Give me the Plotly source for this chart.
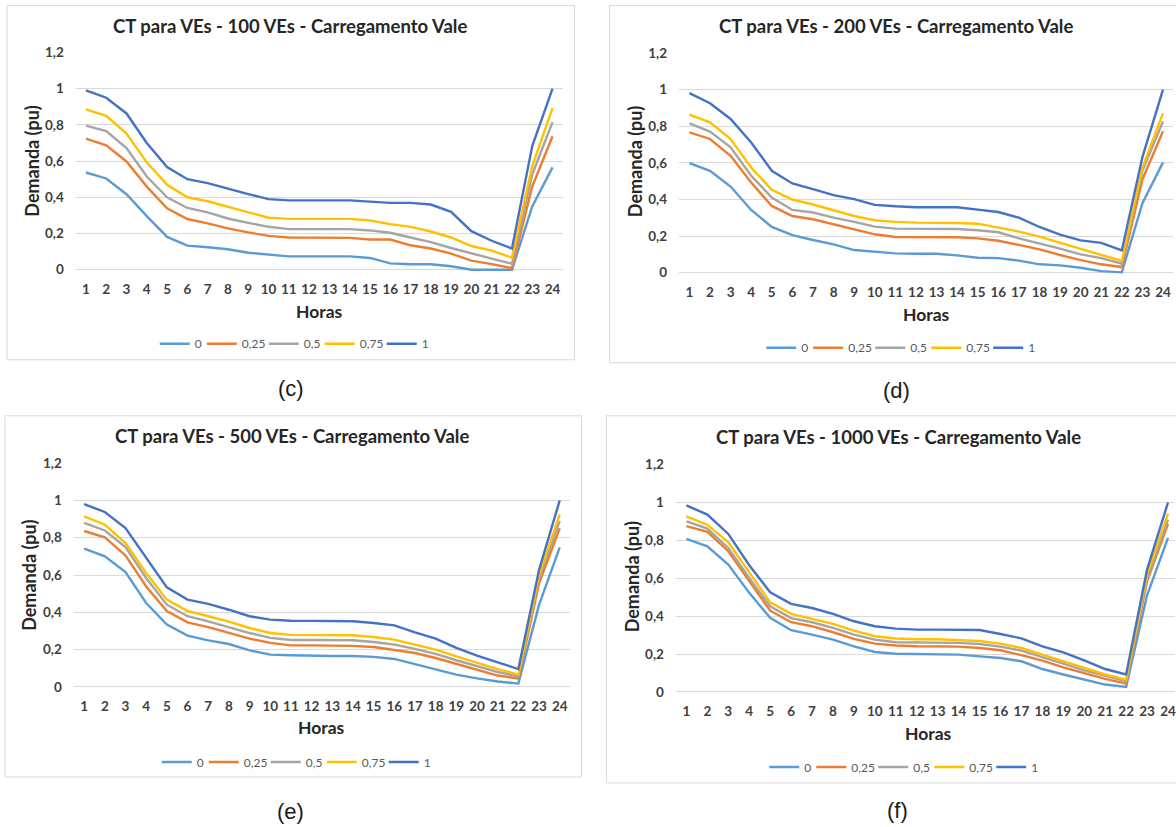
import plotly.graph_objects as go

# ---------------- data ----------------
hours = list(range(1, 25))
series_names = ["0", "0,25", "0,5", "0,75", "1"]
y_tick_vals = [0, 0.2, 0.4, 0.6, 0.8, 1.0, 1.2]
y_tick_text = ["0", "0,2", "0,4", "0,6", "0,8", "1", "1,2"]

# 100 VEs
ve100_0 = [0.537, 0.504, 0.417, 0.296, 0.181, 0.133, 0.124, 0.113, 0.094, 0.083, 0.074, 0.074,
           0.074, 0.074, 0.065, 0.035, 0.030, 0.030, 0.019, 0.0, 0.0, 0.0, 0.35, 0.565]
ve100_025 = [0.724, 0.687, 0.598, 0.459, 0.339, 0.280, 0.256, 0.228, 0.206, 0.187, 0.178, 0.176,
             0.176, 0.176, 0.167, 0.167, 0.135, 0.117, 0.089, 0.050, 0.031, 0.009, 0.46, 0.737]
ve100_05 = [0.796, 0.765, 0.672, 0.515, 0.400, 0.341, 0.317, 0.283, 0.259, 0.237, 0.224, 0.224,
            0.224, 0.224, 0.217, 0.204, 0.178, 0.152, 0.120, 0.089, 0.061, 0.033, 0.526, 0.815]
ve100_075 = [0.885, 0.850, 0.752, 0.593, 0.469, 0.400, 0.378, 0.348, 0.320, 0.287, 0.281, 0.281,
             0.281, 0.281, 0.272, 0.252, 0.237, 0.211, 0.178, 0.131, 0.106, 0.067, 0.572, 0.892]
ve100_1 = [0.990, 0.950, 0.863, 0.700, 0.567, 0.500, 0.478, 0.446, 0.417, 0.390, 0.383, 0.383,
           0.383, 0.383, 0.376, 0.369, 0.369, 0.360, 0.320, 0.213, 0.160, 0.117, 0.683, 1.0]

# 200 VEs
ve200_0 = [0.599, 0.557, 0.471, 0.343, 0.250, 0.205, 0.179, 0.155, 0.124, 0.113, 0.106, 0.104,
           0.104, 0.095, 0.082, 0.080, 0.066, 0.046, 0.040, 0.027, 0.009, 0.002, 0.38, 0.603]
ve200_025 = [0.767, 0.731, 0.639, 0.493, 0.365, 0.310, 0.292, 0.265, 0.237, 0.210, 0.195, 0.194,
             0.194, 0.194, 0.188, 0.175, 0.152, 0.128, 0.097, 0.069, 0.046, 0.031, 0.51, 0.773]
ve200_05 = [0.816, 0.771, 0.685, 0.530, 0.411, 0.343, 0.329, 0.301, 0.278, 0.252, 0.241, 0.239,
            0.239, 0.239, 0.232, 0.221, 0.188, 0.161, 0.132, 0.100, 0.080, 0.049, 0.557, 0.826]
ve200_075 = [0.864, 0.822, 0.730, 0.575, 0.453, 0.400, 0.373, 0.343, 0.310, 0.287, 0.278, 0.274,
             0.274, 0.272, 0.268, 0.245, 0.225, 0.197, 0.164, 0.128, 0.095, 0.064, 0.575, 0.872]
ve200_1 = [0.981, 0.926, 0.840, 0.712, 0.557, 0.488, 0.457, 0.424, 0.402, 0.371, 0.363, 0.358,
           0.358, 0.358, 0.345, 0.332, 0.301, 0.250, 0.208, 0.177, 0.163, 0.122, 0.632, 1.0]

# 500 VEs
ve500_0 = [0.741, 0.700, 0.616, 0.450, 0.334, 0.275, 0.250, 0.230, 0.196, 0.173, 0.170, 0.166,
           0.166, 0.166, 0.161, 0.150, 0.123, 0.096, 0.066, 0.046, 0.029, 0.018, 0.44, 0.748]
ve500_025 = [0.836, 0.802, 0.705, 0.539, 0.407, 0.346, 0.321, 0.289, 0.259, 0.236, 0.223, 0.223,
             0.223, 0.220, 0.214, 0.200, 0.182, 0.155, 0.125, 0.093, 0.061, 0.045, 0.555, 0.851]
ve500_05 = [0.879, 0.839, 0.750, 0.584, 0.441, 0.379, 0.352, 0.321, 0.289, 0.263, 0.252, 0.252,
            0.250, 0.250, 0.241, 0.227, 0.204, 0.177, 0.143, 0.111, 0.080, 0.057, 0.582, 0.890]
ve500_075 = [0.914, 0.870, 0.771, 0.611, 0.468, 0.407, 0.379, 0.350, 0.316, 0.289, 0.279, 0.277,
             0.277, 0.277, 0.268, 0.254, 0.227, 0.200, 0.164, 0.129, 0.096, 0.066, 0.600, 0.925]
ve500_1 = [0.980, 0.938, 0.852, 0.691, 0.534, 0.468, 0.445, 0.414, 0.379, 0.361, 0.355, 0.354,
           0.352, 0.352, 0.343, 0.330, 0.293, 0.259, 0.209, 0.168, 0.132, 0.096, 0.628, 1.0]

# 1000 VEs
ve1000_0 = [0.808, 0.769, 0.672, 0.523, 0.391, 0.326, 0.303, 0.276, 0.241, 0.211, 0.202, 0.201,
            0.201, 0.197, 0.188, 0.179, 0.162, 0.121, 0.092, 0.065, 0.039, 0.026, 0.51, 0.813]
ve1000_025 = [0.875, 0.845, 0.743, 0.584, 0.429, 0.368, 0.347, 0.315, 0.280, 0.255, 0.245, 0.241,
              0.241, 0.239, 0.232, 0.220, 0.194, 0.165, 0.130, 0.100, 0.069, 0.044, 0.584, 0.887]
ve1000_05 = [0.900, 0.862, 0.760, 0.602, 0.452, 0.390, 0.368, 0.338, 0.303, 0.276, 0.262, 0.260,
             0.260, 0.259, 0.253, 0.239, 0.218, 0.185, 0.150, 0.114, 0.083, 0.056, 0.600, 0.910]
ve1000_075 = [0.927, 0.883, 0.790, 0.628, 0.473, 0.412, 0.387, 0.359, 0.324, 0.294, 0.282, 0.278,
              0.278, 0.274, 0.269, 0.255, 0.232, 0.197, 0.162, 0.127, 0.092, 0.065, 0.620, 0.941]
ve1000_1 = [0.985, 0.936, 0.834, 0.669, 0.526, 0.465, 0.443, 0.412, 0.373, 0.347, 0.334, 0.329,
            0.329, 0.329, 0.327, 0.306, 0.283, 0.241, 0.209, 0.167, 0.121, 0.092, 0.646, 1.0]

panel_titles = [
    "CT para VEs - 100 VEs - Carregamento Vale",
    "CT para VEs - 200 VEs - Carregamento Vale",
    "CT para VEs - 500 VEs - Carregamento Vale",
    "CT para VEs - 1000 VEs - Carregamento Vale",
]
panel_letters = ["(c)", "(d)", "(e)", "(f)"]
panel_series = [
    [ve100_0, ve100_025, ve100_05, ve100_075, ve100_1],
    [ve200_0, ve200_025, ve200_05, ve200_075, ve200_1],
    [ve500_0, ve500_025, ve500_05, ve500_075, ve500_1],
    [ve1000_0, ve1000_025, ve1000_05, ve1000_075, ve1000_1],
]

# ---------------- styling / layout ----------------
W, H = 1176, 827
colors = ["#5B9BD5", "#ED7D31", "#A5A5A5", "#FFC000", "#4472C4"]
legend_widths = [2, 17, 11, 17, 2]
FONT = "Lato, 'Open Sans', sans-serif"
TEXT = "#404040"
GRID = "#D9D9D9"

# vertical placement calibration of the rendered page
Y_OFF, Y_SCALE = 9.4, 0.985


def fx(px):
    return px / W


def fy(py):
    return 1 - ((py - Y_OFF) / Y_SCALE) / H


# per panel geometry in pixels:
# x of hour 1, x of hour 24, right clip, y of value 0, y of value 1.2,
# frame box, title/axis-title/legend/letter anchors
geo = [
    dict(h1=86.0, h24=553.0, clip=None, y0=271.0, y12=53.8,
         frame=(7, 7, 575, 361), title=(290, 27), ytitle=(32, 162),
         xtitle=(320, 313), legend=(292, 345), letter=(291, 390)),
    dict(h1=690.0, h24=1164.0, clip=None, y0=274.0, y12=54.5,
         frame=(610, 7, 1180, 364), title=(897, 27), ytitle=(635, 163),
         xtitle=(927, 316), legend=(899, 349), letter=(897, 392)),
    dict(h1=84.2, h24=560.2, clip=None, y0=688.0, y12=464.3,
         frame=(5, 417, 582, 778), title=(292, 437), ytitle=(29, 576),
         xtitle=(322, 729), legend=(294, 763), letter=(291, 813)),
    dict(h1=687.0, h24=1169.0, clip=1176.0, y0=693.0, y12=465.8,
         frame=(607, 417, 1180, 784), title=(899, 438), ytitle=(632, 578),
         xtitle=(929, 735), legend=(902, 768), letter=(898, 812)),
]

fig = go.Figure()
layout = dict(
    width=W, height=H,
    margin=dict(l=0, r=0, t=0, b=0),
    paper_bgcolor="white", plot_bgcolor="white",
    showlegend=True,
    shapes=[], annotations=[],
)

for k, (g, series) in enumerate(zip(geo, panel_series)):
    suffix = "" if k == 0 else str(k + 1)
    leg = "legend" + suffix
    for name, col, lw, vals in zip(series_names, colors, legend_widths, series):
        fig.add_trace(go.Scatter(
            x=hours, y=vals, mode="lines", name=name,
            line=dict(color=col, width=2.4),
            xaxis="x" + suffix, yaxis="y" + suffix, legend=leg,
            legendwidth=lw, hoverinfo="skip",
        ))

    step = (g["h24"] - g["h1"]) / 23
    left = g["h1"] - step / 2
    right = g["h24"] + step / 2
    xr_hi = 24.5
    if g["clip"] is not None and right > g["clip"]:
        xr_hi = 24.5 - (right - g["clip"]) / step
        right = g["clip"]
    per_unit = (g["y0"] - g["y12"]) / 1.2
    pad = 4.0
    bottom = g["y0"] + pad

    layout["xaxis" + suffix] = dict(
        domain=[fx(left), fx(right)], range=[0.5, xr_hi],
        anchor="y" + suffix, tickmode="array", tickvals=hours,
        ticktext=[str(h) for h in hours], showgrid=False, zeroline=False,
        showline=False, ticks="", ticklabelstandoff=6,
        ticklabeloverflow="allow",
        tickfont=dict(family=FONT, size=13.5, color=TEXT, weight="bold"),
        fixedrange=True,
    )
    layout["yaxis" + suffix] = dict(
        domain=[fy(bottom), fy(g["y12"])], range=[-pad / per_unit, 1.2],
        anchor="x" + suffix, tickmode="array", tickvals=y_tick_vals,
        ticktext=y_tick_text, showgrid=True, gridcolor=GRID, gridwidth=1,
        zeroline=False, showline=False, ticks="", ticklabelstandoff=11,
        tickfont=dict(family=FONT, size=13.5, color=TEXT, weight="bold"),
        fixedrange=True,
    )

    lx, ly = g["legend"]
    layout[leg] = dict(
        orientation="h", x=fx(lx), y=fy(ly), xanchor="center", yanchor="middle",
        font=dict(family=FONT, size=12, color="#595959"),
        bgcolor="rgba(0,0,0,0)", itemwidth=30, traceorder="normal",
    )

    x0, y0, x1, y1 = g["frame"]
    layout["shapes"].append(dict(
        type="rect", xref="paper", yref="paper",
        x0=fx(x0), y0=fy(y1), x1=fx(x1), y1=fy(y0),
        line=dict(color=GRID, width=1), fillcolor="rgba(0,0,0,0)", layer="below",
    ))

    tx, ty = g["title"]
    layout["annotations"].append(dict(
        text=panel_titles[k], x=fx(tx), y=fy(ty), xref="paper", yref="paper",
        xanchor="center", yanchor="middle", showarrow=False,
        font=dict(family=FONT, size=18.5, color="#262626", weight="bold"),
    ))
    ax_, ay_ = g["ytitle"]
    layout["annotations"].append(dict(
        text="Demanda (pu)", x=fx(ax_), y=fy(ay_), xref="paper", yref="paper",
        xanchor="center", yanchor="middle", showarrow=False, textangle=-90,
        font=dict(family=FONT, size=18, color="#262626", weight="bold"),
    ))
    hx, hy = g["xtitle"]
    layout["annotations"].append(dict(
        text="Horas", x=fx(hx), y=fy(hy), xref="paper", yref="paper",
        xanchor="center", yanchor="middle", showarrow=False,
        font=dict(family=FONT, size=17.5, color="#262626", weight="bold"),
    ))
    px_, py_ = g["letter"]
    layout["annotations"].append(dict(
        text=panel_letters[k], x=fx(px_), y=fy(py_), xref="paper", yref="paper",
        xanchor="center", yanchor="middle", showarrow=False,
        font=dict(family="'Liberation Sans', Arial, sans-serif", size=22, color="#1a1a1a"),
    ))

fig.update_layout(**layout)
fig.write_html("out.html", config=dict(displayModeBar=False))
